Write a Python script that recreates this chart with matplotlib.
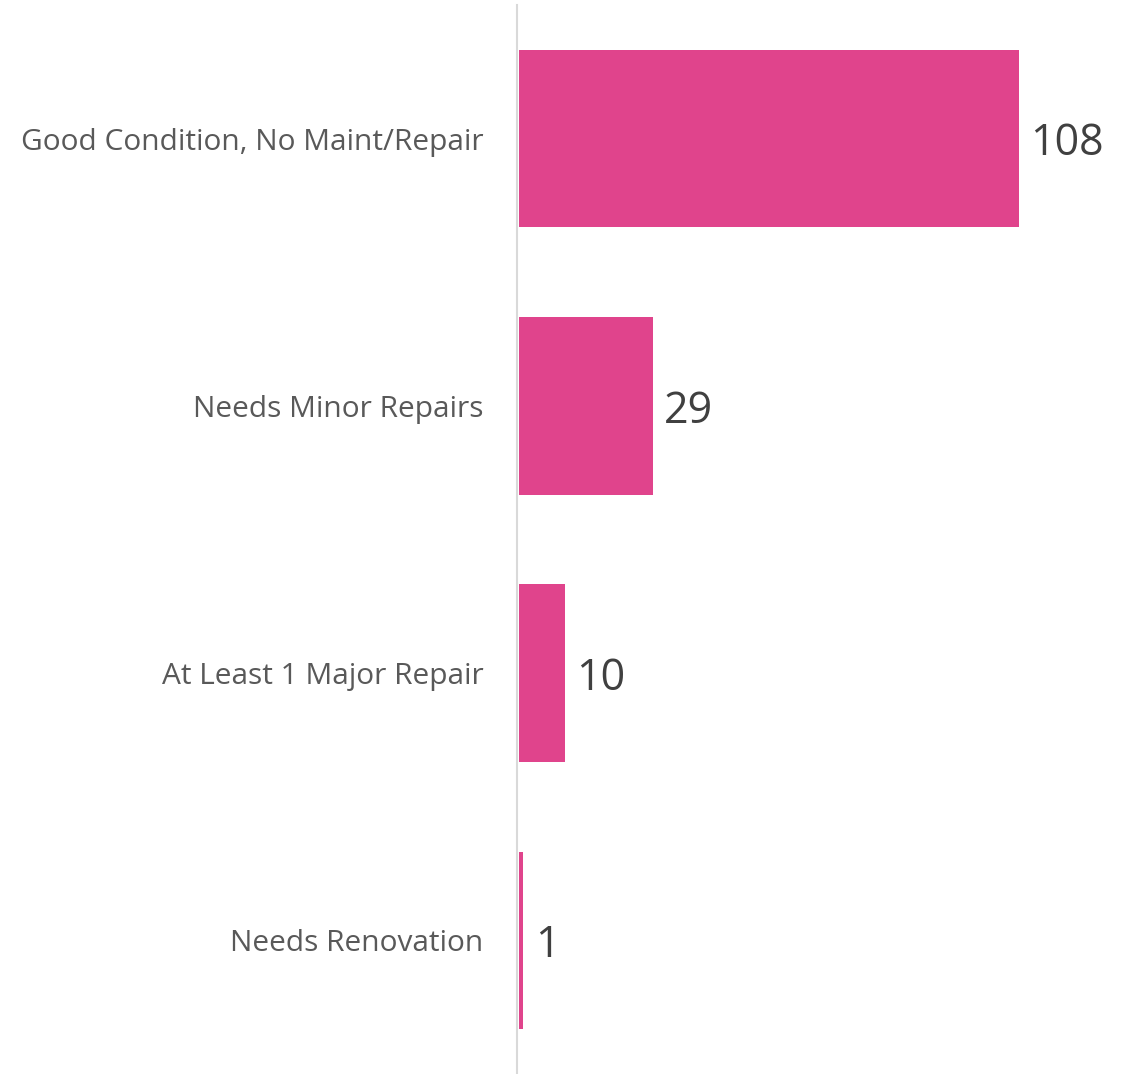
import matplotlib.pyplot as plt

categories = ["Good Condition, No Maint/Repair", "Needs Minor Repairs",
              "At Least 1 Major Repair", "Needs Renovation"]
counts = [108, 29, 10, 1]

bar_color = "#E0448C"

fig = plt.figure(figsize=(11.24, 10.74), dpi=100)
ax = fig.add_axes([517 / 1124, 0, 1 - 517 / 1124, 1 - 5 / 1074])

ypos = list(range(len(categories)))
bars = ax.barh(ypos, counts, height=0.665, color=bar_color, left=0.4)

ax.set_ylim(len(categories) - 0.5, -0.5)
ax.set_xlim(0, 131)

ax.set_yticks(ypos)
ax.set_yticklabels(categories, fontsize=21.5, color="#595959", family="Open Sans")
ax.tick_params(axis="y", length=0, pad=24)
ax.set_xticks([])

for side in ["top", "right", "bottom"]:
    ax.spines[side].set_visible(False)
ax.spines["left"].set_color("#d9d9d9")
ax.spines["left"].set_linewidth(1.5)

for b, v in zip(bars, counts):
    ax.text(b.get_x() + b.get_width() + 2.4, b.get_y() + b.get_height() / 2, str(v),
            va="center_baseline", ha="left", fontsize=31, color="#404040",
            family="Open Sans")

fig.savefig("out.png", dpi=100)
